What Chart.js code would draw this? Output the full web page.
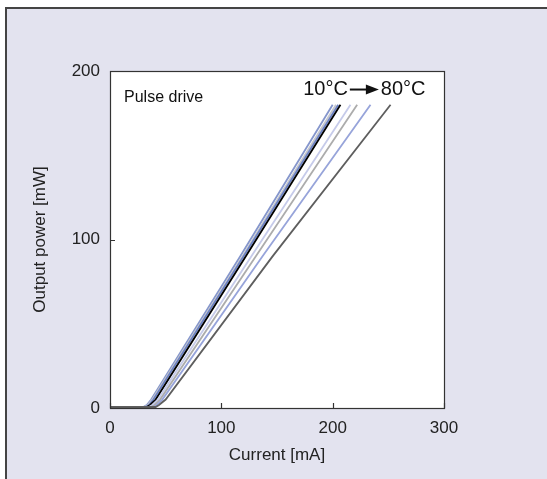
<!DOCTYPE html>
<html>
<head>
<meta charset="utf-8">
<script src="https://cdn.jsdelivr.net/npm/chart.js@4.4.0/dist/chart.umd.min.js"></script>
<style>
  html, body { margin: 0; padding: 0; background: #fff; }
  #wrap { position: relative; width: 547px; height: 479px; overflow: hidden; }
  #frame { position: absolute; left: 5px; top: 7px; width: 600px; height: 520px;
           background: #e3e3ef; border-left: 2px solid #444; border-top: 2px solid #444; }
  #myChart { position: absolute; left: 0; top: 0; }
</style>
</head>
<body>
<div id="wrap">
  <div id="frame"></div>
  <canvas id="myChart" width="547" height="479"></canvas>
</div>
<script>
'use strict';

// temperatures, 10 to 80 degC
let temps = ['10°C', '20°C', '30°C', '40°C', '50°C', '60°C', '70°C', '80°C'];
let colors = ['#8596cc', '#c4c6cc', '#6a80c2', '#000000', '#c6cbea', '#acacac', '#97a4da', '#5e5e5e'];

// current [mA], one list per temperature
let current10 = [0, 30, 33, 37, 117, 200];
let current20 = [0, 31, 34, 38, 119, 203];
let current30 = [0, 32, 35, 39, 120, 205];
let current40 = [0, 33, 36, 41, 122, 207];
let current50 = [0, 35, 38, 43, 127, 216];
let current60 = [0, 37, 40, 45, 131, 222];
let current70 = [0, 39, 42, 47, 137, 234];
let current80 = [0, 41, 44, 50, 146, 252];
// output power [mW] at those currents
let power = [0.6, 0.6, 1.8, 5, 90, 180];

let currentTicks = [0, 100, 200, 300];
let powerTicks = [0, 100, 200];

let currents = [current10, current20, current30, current40, current50, current60, current70, current80];

let datasets = [];
for (let i = currents.length - 1; i >= 0; i--) {
    let pts = [];
    for (let j = 0; j < currents[i].length; j++) {
        pts.push({ x: currents[i][j], y: power[j] });
    }
    datasets.push({
        label: temps[i],
        data: pts,
        borderColor: colors[i],
        borderWidth: 1.8,
        pointRadius: 0,
        showLine: true,
        fill: false,
        tension: 0
    });
}

let fontFam = '"Liberation Sans", Arial, sans-serif';

// white plot box, frame and inward ticks
let boxPlugin = {
    id: 'box',
    beforeDraw(chart) {
        let a = chart.chartArea, c = chart.ctx;
        c.save();
        c.fillStyle = '#fff';
        c.fillRect(a.left, a.top, a.right - a.left, a.bottom - a.top);
        c.restore();
    },
    afterDraw(chart) {
        let a = chart.chartArea, c = chart.ctx;
        let xs = chart.scales.x, ys = chart.scales.y;
        c.save();
        c.strokeStyle = '#333';
        c.lineWidth = 1.2;
        c.strokeRect(a.left + 0.5, a.top + 0.5, a.right - a.left, a.bottom - a.top);
        c.beginPath();
        currentTicks.forEach(v => {
            let px = Math.round(xs.getPixelForValue(v)) + 0.5;
            c.moveTo(px, a.bottom); c.lineTo(px, a.bottom - 5);
        });
        powerTicks.forEach(v => {
            let py = Math.round(ys.getPixelForValue(v)) + 0.5;
            c.moveTo(a.left, py); c.lineTo(a.left + 5, py);
        });
        c.stroke();

        // notes
        c.fillStyle = '#111';
        c.textBaseline = 'middle';
        c.font = '16px ' + fontFam;
        c.fillText('Pulse drive', xs.getPixelForValue(12.6), ys.getPixelForValue(184));
        c.font = '20px ' + fontFam;
        let tx = xs.getPixelForValue(173.5), ty = ys.getPixelForValue(189);
        c.fillText('10°C', tx, ty);
        let ax = tx + c.measureText('10°C').width + 2;
        c.beginPath();
        c.lineWidth = 2;
        c.strokeStyle = '#111';
        c.moveTo(ax, ty); c.lineTo(ax + 18, ty);
        c.stroke();
        c.beginPath();
        c.moveTo(ax + 16, ty - 5); c.lineTo(ax + 29, ty); c.lineTo(ax + 16, ty + 5);
        c.closePath();
        c.fill();
        c.fillText('80°C', ax + 31, ty);
        c.restore();
    }
};

let ctx = document.getElementById('myChart').getContext('2d');
let myChart = new Chart(ctx, {
    type: 'scatter',
    data: { datasets: datasets },
    options: {
        responsive: false,
        animation: false,
        layout: { padding: { left: 0, top: 71, right: 103, bottom: 0 } },
        plugins: { legend: { display: false }, tooltip: { enabled: false } },
        scales: {
            x: {
                type: 'linear', min: 0, max: 300,
                afterBuildTicks: s => { s.ticks = currentTicks.map(v => ({ value: v })); },
                afterFit: s => { s.height = 71; },
                grid: { display: false },
                border: { display: false },
                ticks: { color: '#222', font: { size: 17, family: fontFam }, padding: 2, maxRotation: 0 },
                title: { display: true, text: 'Current [mA]', color: '#222', font: { size: 17, family: fontFam }, padding: { top: 0, bottom: 13 } }
            },
            y: {
                type: 'linear', min: 0, max: 200,
                afterBuildTicks: s => { s.ticks = powerTicks.map(v => ({ value: v })); },
                afterFit: s => { s.width = 110; },
                grid: { display: false },
                border: { display: false },
                ticks: { color: '#222', font: { size: 17, family: fontFam }, padding: 2 },
                title: { display: true, text: 'Output power [mW]', color: '#222', font: { size: 17, family: fontFam }, padding: { top: 30, bottom: 0 } }
            }
        }
    },
    plugins: [boxPlugin]
});
</script>
</body>
</html>
